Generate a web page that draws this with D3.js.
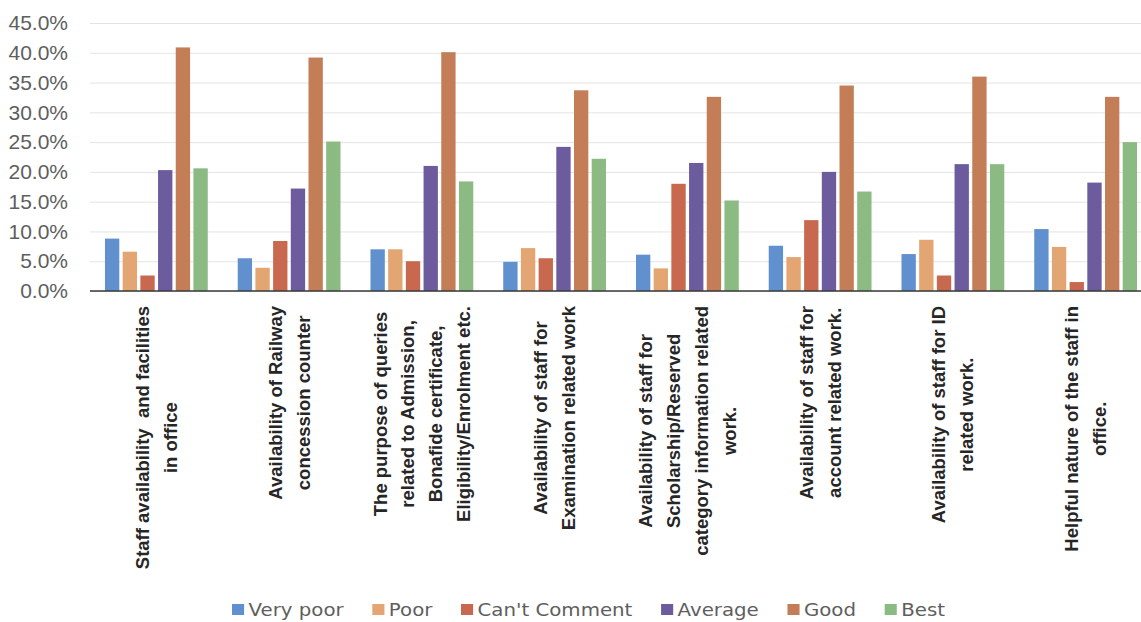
<!DOCTYPE html>
<html><head><meta charset="utf-8">
<script src="https://cdn.jsdelivr.net/npm/d3@7"></script>
<style>body{margin:0;background:#fff}</style>
</head><body>
<svg id="c" width="1141" height="622"></svg>
<script>
const categories = [
  ["Staff availability  and facilities", "in office"],
  ["Availability of Railway", "concession counter"],
  ["The purpose of queries", "related to Admission,", "Bonafide certificate,", "Eligibility/Enrolment etc."],
  ["Availability of staff for", "Examination related work"],
  ["Availability of staff for", "Scholarship/Reserved", "category information related", "work."],
  ["Availability of staff for", "account related work."],
  ["Availability of staff for ID", "related work."],
  ["Helpful nature of the staff in", "office."]
];
const seriesNames = ["Very poor", "Poor", "Can't Comment", "Average", "Good", "Best"];
const veryPoor    = [8.8, 5.5, 7.0, 4.9, 6.1, 7.6, 6.2, 10.4];
const poor        = [6.6, 3.9, 7.0, 7.2, 3.8, 5.7, 8.6, 7.4];
const cantComment = [2.6, 8.4, 5.0, 5.5, 18.0, 11.9, 2.6, 1.5];
const average     = [20.3, 17.2, 21.0, 24.2, 21.5, 20.0, 21.3, 18.2];
const good        = [40.9, 39.2, 40.1, 33.7, 32.6, 34.5, 36.0, 32.6];
const best        = [20.6, 25.1, 18.4, 22.2, 15.2, 16.7, 21.3, 25.0];
const yTicks = [0, 5, 10, 15, 20, 25, 30, 35, 40, 45];
const colors = ["#6190cf", "#e3a572", "#c8684f", "#6c5b9d", "#c47e57", "#8cba83"];

const seriesValues = [veryPoor, poor, cantComment, average, good, best];
const W = 1141, H = 622;
const svg = d3.select("#c");
svg.append("rect").attr("width", W).attr("height", H).attr("fill", "#fff");

const mLeft = 90, plotRight = 1152, mTop = 23, mBottom = 291;
const x0 = d3.scaleBand().domain(d3.range(categories.length)).range([mLeft, plotRight])
  .paddingInner(0.2257).paddingOuter(0.1128);
const x1 = d3.scaleBand().domain(seriesNames).range([0, x0.bandwidth()]).paddingInner(0.19);
const y = d3.scaleLinear().domain([0, 45]).range([mBottom, mTop]);

// gridlines
const grid = svg.append("g").attr("transform", `translate(${mLeft},0)`)
  .call(d3.axisLeft(y).tickValues(yTicks).tickSize(-(W - mLeft)).tickFormat(""));
grid.select(".domain").remove();
grid.selectAll("line").attr("stroke", "#e4e4e4").attr("stroke-width", 1);

// y labels
const ya = svg.append("g").attr("transform", `translate(${mLeft},0)`)
  .call(d3.axisLeft(y).tickValues(yTicks).tickSize(0).tickPadding(22).tickFormat(d => d.toFixed(1) + "%"));
ya.select(".domain").remove();
ya.selectAll("text").attr("font-family", "Liberation Sans, Arial, sans-serif")
  .attr("font-size", 21).attr("fill", "#5e5e5e");

// bars
const groups = svg.append("g").selectAll("g").data(categories).join("g")
  .attr("transform", (d, i) => `translate(${x0(i)},0)`);
groups.selectAll("rect").data((d, i) => seriesNames.map((s, j) => ({s, j, v: seriesValues[j][i]})))
  .join("rect")
  .attr("x", d => x1(d.s)).attr("width", x1.bandwidth())
  .attr("y", d => y(d.v)).attr("height", d => y(0) - y(d.v))
  .attr("fill", d => colors[d.j]);

// x axis line
svg.append("line").attr("x1", mLeft).attr("x2", W).attr("y1", y(0)).attr("y2", y(0))
  .attr("stroke", "#3a3a3a").attr("stroke-width", 1.6);

// category labels
const lh = 27.8, labelTop = 306;
categories.forEach((lines, i) => {
  const cx = x0(i) + x0.bandwidth() / 2;
  const g = svg.append("g");
  const texts = lines.map((t, k) => g.append("text")
    .attr("font-family", "Liberation Sans, Arial, sans-serif")
    .attr("font-weight", "bold").attr("font-size", 18.5).attr("fill", "#262626")
    .attr("text-anchor", "middle").style("white-space", "pre").text(t));
  const maxLen = d3.max(texts, t => t.node().getComputedTextLength());
  const cy = labelTop + maxLen / 2;
  texts.forEach((t, k) => {
    const lx = cx + (k - (lines.length - 1) / 2) * lh;
    t.attr("transform", `translate(${lx},${cy}) rotate(-90)`).attr("dy", "0.35em");
  });
});

// legend
const lg = svg.append("g");
let cur = 0;
seriesNames.forEach((s, j) => {
  const it = lg.append("g").attr("transform", `translate(${cur},0)`);
  it.append("rect").attr("x", 0).attr("y", -6).attr("width", 11).attr("height", 11).attr("fill", colors[j]);
  const t = it.append("text").attr("x", 15).attr("y", 0).attr("dy", "0.36em")
    .attr("font-family", "DejaVu Sans, sans-serif").attr("font-size", 18).attr("fill", "#5e5e5e").text(s);
  const w = 15 + t.node().getComputedTextLength();
  cur += w + 26;
});
const natural = cur - 26;
const sx = (945 - 232) / natural;
lg.attr("transform", `translate(232,610) scale(${sx},1)`);
</script>
</body></html>
